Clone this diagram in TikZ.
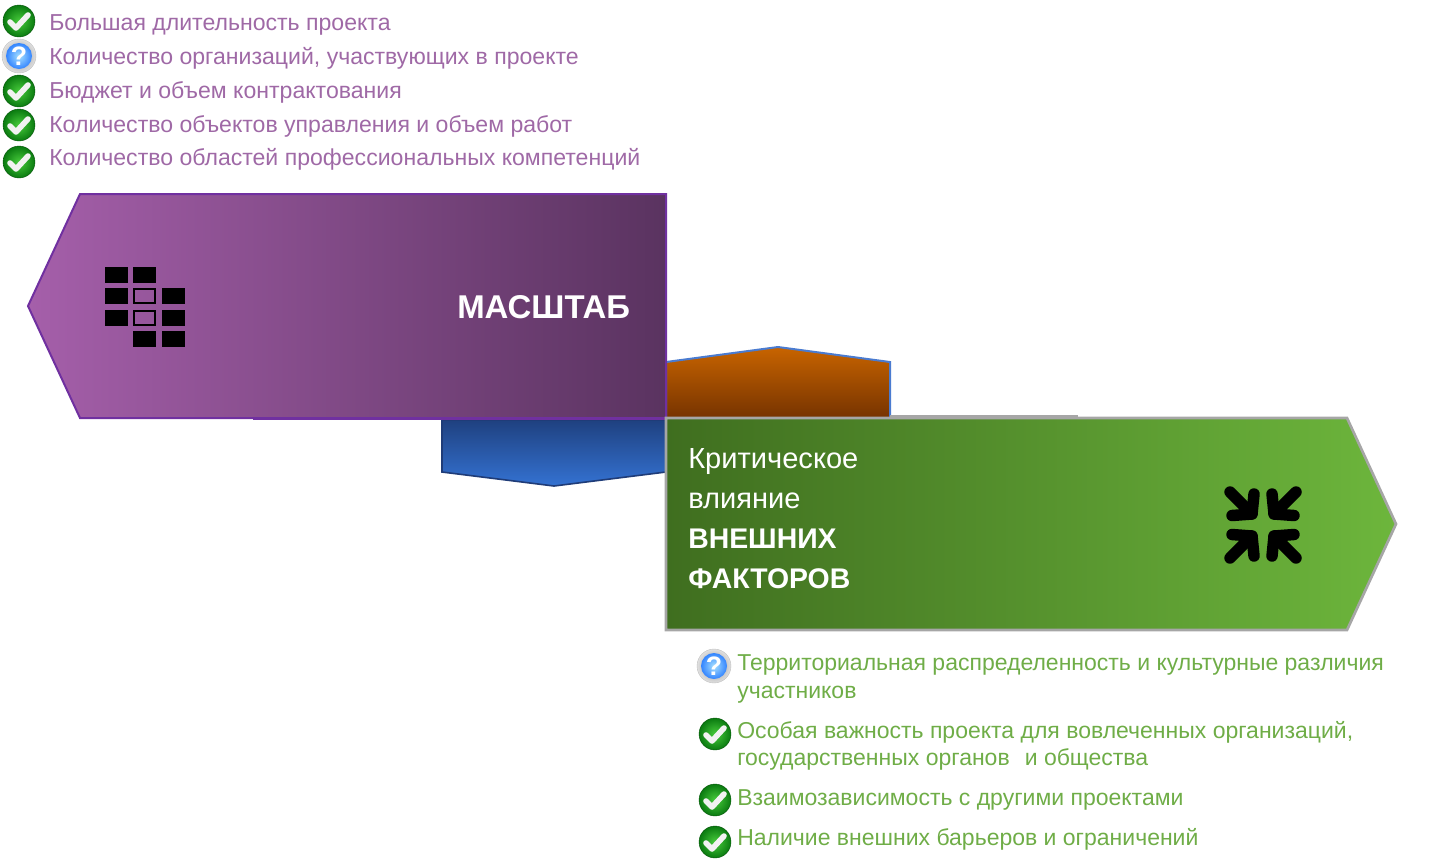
\documentclass[tikz,border=0pt]{standalone}
\usepackage{fontspec}
\setmainfont{Liberation Sans}
\definecolor{purpText}{HTML}{9F69A6}
\definecolor{greenText}{HTML}{6FAD47}
\definecolor{purpLine}{HTML}{7030A0}
\definecolor{blueLine}{HTML}{4A7BD0}
\definecolor{navyLine}{HTML}{1F3C78}
\definecolor{greyLine}{HTML}{A6A6A6}
\definecolor{purpL}{HTML}{A55FAA}
\definecolor{purpR}{HTML}{5A3360}
\definecolor{greenL}{HTML}{3F6E1F}
\definecolor{greenR}{HTML}{6DB63C}
\definecolor{orangeT}{HTML}{C86400}
\definecolor{orangeB}{HTML}{763300}
\definecolor{blueT}{HTML}{1F4180}
\definecolor{blueB}{HTML}{3472D2}
\definecolor{okIn}{HTML}{48CC3C}
\definecolor{okOut}{HTML}{0A7A10}
\tikzset{
  x=0.75pt,y=-0.75pt,
  ptext/.style={anchor=base west,inner sep=0pt,text=purpText,font=\fontsize{17.3pt}{20pt}\selectfont},
  gtext/.style={anchor=base west,inner sep=0pt,text=greenText,font=\fontsize{17.25pt}{20.5pt}\selectfont,align=left},
  wtext/.style={anchor=base west,inner sep=0pt,text=white,font=\fontsize{21.8pt}{25pt}\selectfont},
  wbold/.style={anchor=base west,inner sep=0pt,text=white,font=\fontsize{21.3pt}{25pt}\selectfont\bfseries},
  wtitle/.style={anchor=base west,inner sep=0pt,text=white,font=\fontsize{24.7pt}{28pt}\selectfont\bfseries},
  okmark/.pic={
    \shade[inner color=okIn,outer color=okOut,draw=okOut!70!black,line width=.3pt] (0,0) circle[radius=16];
    \draw[black!5,line width=4.2pt,line cap=round,line join=round] (-9,1) -- (-3,7) -- (9,-6);
  },
  askmark/.pic={
    \shade[inner color=black!45,outer color=black!12,draw=black!25,line width=.3pt] (0,0) circle[radius=17];
    \shade[inner color=blue!35!cyan!35!white,outer color=blue!60!cyan!80!white] (0,0) circle[radius=13];
    \node[inner sep=0pt,text=white,font=\fontsize{20pt}{20pt}\selectfont\bfseries] at (0,0) {?};
  },
  cell/.style={fill=black},
  hollowcell/.style={draw=black,line width=2.2pt},
  squeeze/.style={black,line width=8.6pt,line cap=round,line join=round},
}
\begin{document}
\begin{tikzpicture}
\useasboundingbox (0,0) rectangle (1444,865);
% blue and orange tabs
\draw[navyLine,line width=1.2pt,top color=blueT,bottom color=blueB]
  (442,420) -- (666,420) -- (666,472) -- (554,486) -- (442,472) -- cycle;
\draw[blueLine,line width=1.5pt,top color=orangeT,bottom color=orangeB]
  (666,362) -- (778,347) -- (890,362) -- (890,418) -- (666,418) -- cycle;
% grey ledge
\fill[greyLine] (890,415) rectangle (1078,418);
% purple arrow
\draw[purpLine,line width=1.5pt,left color=purpL,right color=purpR]
  (28,306) -- (80,194) -- (666,194) -- (666,418) -- (80,418) -- cycle;
\fill[purpLine] (253,417.6) rectangle (666,419.6);
% green arrow
\draw[greyLine,line width=2pt,left color=greenL,right color=greenR]
  (666,418) -- (1347,418) -- (1396,524) -- (1347,630) -- (666,630) -- cycle;

% grid icon
\fill[cell] (105,267) rectangle (128,283);
\fill[cell] (133,267) rectangle (156,283);
\fill[cell] (105,288) rectangle (128,304);
\draw[hollowcell] (134,289) rectangle (155,303);
\fill[cell] (162,288) rectangle (185,304);
\fill[cell] (105,310) rectangle (128,326);
\draw[hollowcell] (134,311) rectangle (155,325);
\fill[cell] (162,310) rectangle (185,326);
\fill[cell] (133,331) rectangle (156,347);
\fill[cell] (162,331) rectangle (185,347);

% squeeze icon
\draw[squeeze] (1230,492) -- (1252,514);
\draw[squeeze] (1254,494) -- (1252,514) -- (1232,515.5);
\draw[squeeze] (1296,492) -- (1274,514);
\draw[squeeze] (1272,494) -- (1274,514) -- (1294,515.5);
\draw[squeeze] (1230,558) -- (1252,536);
\draw[squeeze] (1254,556) -- (1252,536) -- (1232,534.5);
\draw[squeeze] (1296,558) -- (1274,536);
\draw[squeeze] (1272,556) -- (1274,536) -- (1294,534.5);

% top list
\pic at (19,21) {okmark};
\pic at (19,56) {askmark};
\pic at (19,91) {okmark};
\pic at (19,125) {okmark};
\pic at (19,162) {okmark};
\node[ptext] (t1) at (49,30) {Большая длительность проекта};
\node[ptext] (t2) at (49,64) {Количество организаций, участвующих в проекте};
\node[ptext] (t3) at (49,98) {Бюджет и объем контрактования};
\node[ptext] (t4) at (49,132) {Количество объектов управления и объем работ};
\node[ptext] (t5) at (49,165) {Количество областей профессиональных компетенций};

% arrow labels
\node[wtitle] (mas) at (457,318) {МАСШТАБ};
\node[wtext] (c1) at (688,468) {Критическое};
\node[wtext] (c2) at (688,508) {влияние};
\node[wbold] (c3) at (688,548) {ВНЕШНИХ};
\node[wbold] (c4) at (688,588) {ФАКТОРОВ};

% bottom list
\pic at (714,666) {askmark};
\pic at (715,734) {okmark};
\pic at (715,800) {okmark};
\pic at (715,842) {okmark};
\node[gtext] (b1) at (737,670) {Территориальная распределенность и культурные различия};
\node[gtext] (b1b) at (737,698) {участников};
\node[gtext] (b2) at (737,738) {Особая важность проекта для вовлеченных организаций,};
\node[gtext] (b2b) at (737,765) {государственных органов\hspace{6.5pt} и общества};
\node[gtext] (b3) at (737,805) {Взаимозависимость с другими проектами};
\node[gtext] (b4) at (737,845) {Наличие внешних барьеров и ограничений};
\end{tikzpicture}
\end{document}
